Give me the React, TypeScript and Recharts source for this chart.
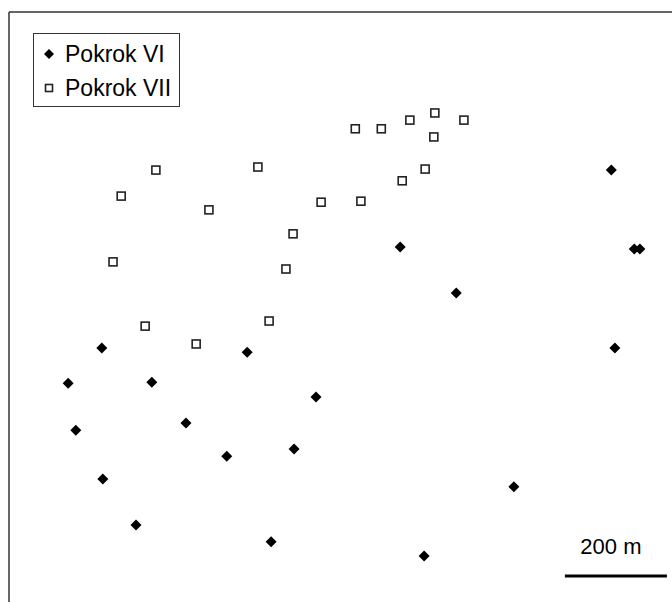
import React from 'react'
import { ScatterChart, Scatter, XAxis, YAxis, ReferenceLine, Label } from 'recharts'

// positions in metres, origin at the lower-left corner of the map frame
const pokrokVI = [
  { x: 1181, y: 847 },
  { x: 1226, y: 692 },
  { x: 1237, y: 692 },
  { x: 767, y: 696 },
  { x: 877, y: 606 },
  { x: 1188, y: 498 },
  { x: 182, y: 498 },
  { x: 467, y: 490 },
  { x: 116, y: 429 },
  { x: 280, y: 431 },
  { x: 602, y: 402 },
  { x: 131, y: 337 },
  { x: 347, y: 351 },
  { x: 427, y: 286 },
  { x: 559, y: 300 },
  { x: 184, y: 241 },
  { x: 990, y: 226 },
  { x: 249, y: 151 },
  { x: 514, y: 118 },
  { x: 814, y: 90 },
]

const pokrokVII = [
  { x: 679, y: 928 },
  { x: 730, y: 928 },
  { x: 786, y: 945 },
  { x: 835, y: 959 },
  { x: 892, y: 945 },
  { x: 833, y: 912 },
  { x: 288, y: 847 },
  { x: 488, y: 853 },
  { x: 816, y: 849 },
  { x: 771, y: 826 },
  { x: 220, y: 796 },
  { x: 392, y: 769 },
  { x: 612, y: 784 },
  { x: 690, y: 786 },
  { x: 557, y: 722 },
  { x: 204, y: 667 },
  { x: 543, y: 653 },
  { x: 267, y: 541 },
  { x: 510, y: 551 },
  { x: 367, y: 506 },
]

const seriesNames = ['Pokrok VI', 'Pokrok VII']

const X_MAX = 1300
const Y_MAX = 1157

// scale bar: 200 m
const scaleBar = [
  { x: 1090, y: 51 },
  { x: 1290, y: 51 },
]
const scaleLabel = '200 m'

const FONT = '"Liberation Sans", Arial, sans-serif'

const Diamond = ({ cx, cy, r = 5.5 }: any) => (
  <polygon
    points={`${cx},${cy - r} ${cx + r},${cy} ${cx},${cy + r} ${cx - r},${cy}`}
    fill="#000"
  />
)

const Square = ({ cx, cy, s = 8 }: any) => (
  <rect x={cx - s / 2} y={cy - s / 2} width={s} height={s} fill="#fff" stroke="#222" strokeWidth={1.6} />
)

const LegendBox = () => (
  <div
    style={{
      position: 'absolute',
      left: 33,
      top: 33,
      width: 147,
      height: 74,
      border: '1.5px solid #333',
      background: '#fff',
      fontFamily: FONT,
      fontSize: 23,
      color: '#000',
      boxSizing: 'border-box',
    }}
  >
    {seriesNames.map((name, i) => (
      <div key={name} style={{ display: 'flex', alignItems: 'center', height: 34, marginTop: i === 0 ? 3 : 0 }}>
        <svg width={31} height={20}>
          {i === 0 ? <Diamond cx={15} cy={10} r={5} /> : <Square cx={15} cy={10} s={7} />}
        </svg>
        <span>{name}</span>
      </div>
    ))}
  </div>
)

export default function App() {
  return (
    <div style={{ position: 'relative', width: 672, height: 602 }}>
      {/* the map fills the whole page */}
      <style>{'html, body { margin: 0; padding: 0; }'}</style>
      <ScatterChart width={672} height={602} margin={{ top: 12, right: 0, bottom: 0, left: 9 }}>
        <XAxis type="number" dataKey="x" domain={[0, X_MAX]} hide allowDataOverflow />
        <YAxis type="number" dataKey="y" domain={[0, Y_MAX]} hide allowDataOverflow />
        {/* map frame: top and left edges */}
        <ReferenceLine y={Y_MAX} stroke="#333" strokeWidth={1.5} ifOverflow="visible" />
        <ReferenceLine x={0} stroke="#333" strokeWidth={1.5} ifOverflow="visible" />
        <Scatter name={seriesNames[0]} data={pokrokVI} shape={<Diamond />} isAnimationActive={false} />
        <Scatter name={seriesNames[1]} data={pokrokVII} shape={<Square />} isAnimationActive={false} />
        <ReferenceLine segment={scaleBar} stroke="#000" strokeWidth={3} ifOverflow="visible">
          <Label value={scaleLabel} position="top" offset={22} dx={-5} fill="#000" fontSize={22} fontFamily={FONT} />
        </ReferenceLine>
      </ScatterChart>
      <LegendBox />
    </div>
  )
}
